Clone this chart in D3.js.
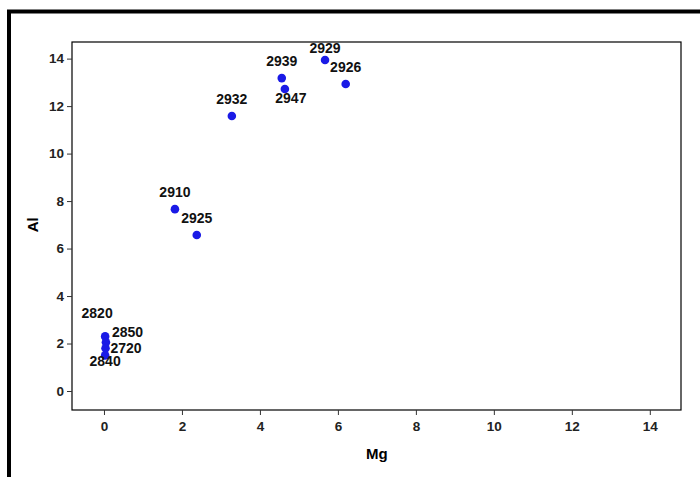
<!DOCTYPE html>
<html>
<head>
<meta charset="utf-8">
<script src="https://cdn.jsdelivr.net/npm/d3@7"></script>
<style>
  body { margin: 0; background: #fff; }
  svg text { font-family: "Liberation Sans Narrow", "Liberation Sans", Arial, sans-serif; font-weight: bold; }
</style>
</head>
<body>
<div id="chart"></div>
<script>
// sample ids, Mg and Al contents
const samples = ["2929", "2926", "2939", "2947", "2932", "2910", "2925", "2820", "2850", "2720", "2840"];
const mg = [5.67, 6.2, 4.56, 4.64, 3.28, 1.82, 2.38, 0.03, 0.05, 0.04, 0.03];
const al = [13.94, 12.93, 13.18, 12.72, 11.58, 7.66, 6.57, 2.3, 2.05, 1.8, 1.5];
const labelSide = ["aboveClose", "above", "above", "belowRight", "above", "above", "above", "aboveLeft", "upRight", "downRight", "below"];
const xTicks = [0, 2, 4, 6, 8, 10, 12, 14];
const yTicks = [0, 2, 4, 6, 8, 10, 12, 14];

const W = 700, H = 477;
const margin = { top: 42, right: 19, bottom: 67, left: 72 };
const width = W - margin.left - margin.right,
  height = H - margin.top - margin.bottom;

const svg = d3.select("#chart").append("svg")
  .attr("width", W)
  .attr("height", H);

// outer frame (runs off the right and bottom edges)
svg.append("path")
  .attr("d", "M9,480 L9,11.5 L705,11.5")
  .attr("fill", "none")
  .attr("stroke", "#000")
  .attr("stroke-width", 4);

const g = svg.append("g")
  .attr("transform", "translate(" + margin.left + "," + margin.top + ")");

const x = d3.scaleLinear().domain([-0.82, 14.8]).range([0, width]);
const y = d3.scaleLinear().domain([-0.8, 14.7]).range([height, 0]);

g.append("rect")
  .attr("width", width)
  .attr("height", height)
  .attr("fill", "none")
  .attr("stroke", "#000")
  .attr("stroke-width", 1.2);

// axes
const xAxis = g.append("g")
  .attr("transform", "translate(0," + height + ")")
  .call(d3.axisBottom(x).tickValues(xTicks).tickSize(5).tickPadding(6));
const yAxis = g.append("g")
  .call(d3.axisLeft(y).tickValues(yTicks).tickSize(5).tickPadding(3));

[xAxis, yAxis].forEach(a => {
  a.select(".domain").remove();
  a.selectAll(".tick line").attr("stroke", "#333");
  a.selectAll(".tick text").attr("font-size", 13.5).attr("fill", "#222")
    .style("font-family", '"Liberation Sans Narrow", "Liberation Sans", Arial, sans-serif');
});

// axis titles
svg.append("text")
  .attr("x", margin.left + x(7))
  .attr("y", 459)
  .attr("text-anchor", "middle")
  .attr("font-size", 15)
  .text("Mg");

svg.append("text")
  .attr("transform", "translate(38," + (margin.top + y(7)) + ") rotate(-90)")
  .attr("text-anchor", "middle")
  .attr("font-size", 15)
  .text("Al");

const data = samples.map((s, i) => ({ id: s, mg: mg[i], al: al[i], side: labelSide[i] }));

g.selectAll(".dot")
  .data(data)
  .enter().append("circle")
  .attr("class", "dot")
  .attr("cx", d => x(d.mg))
  .attr("cy", d => y(d.al))
  .attr("r", 4.3)
  .attr("fill", "#1a1ae6");

const offs = {
  above: [0, -12, "middle"],
  aboveClose: [0, -7, "middle"],
  belowRight: [6, 14, "middle"],
  aboveLeft: [-8, -18, "middle"],
  upRight: [6, -5, "start"],
  downRight: [5, 5, "start"],
  below: [0, 11, "middle"]
};

g.selectAll(".lbl")
  .data(data)
  .enter().append("text")
  .attr("class", "lbl")
  .attr("x", d => x(d.mg) + offs[d.side][0])
  .attr("y", d => y(d.al) + offs[d.side][1])
  .attr("text-anchor", d => offs[d.side][2])
  .attr("font-size", 14)
  .attr("fill", "#111")
  .text(d => d.id);
</script>
</body>
</html>
